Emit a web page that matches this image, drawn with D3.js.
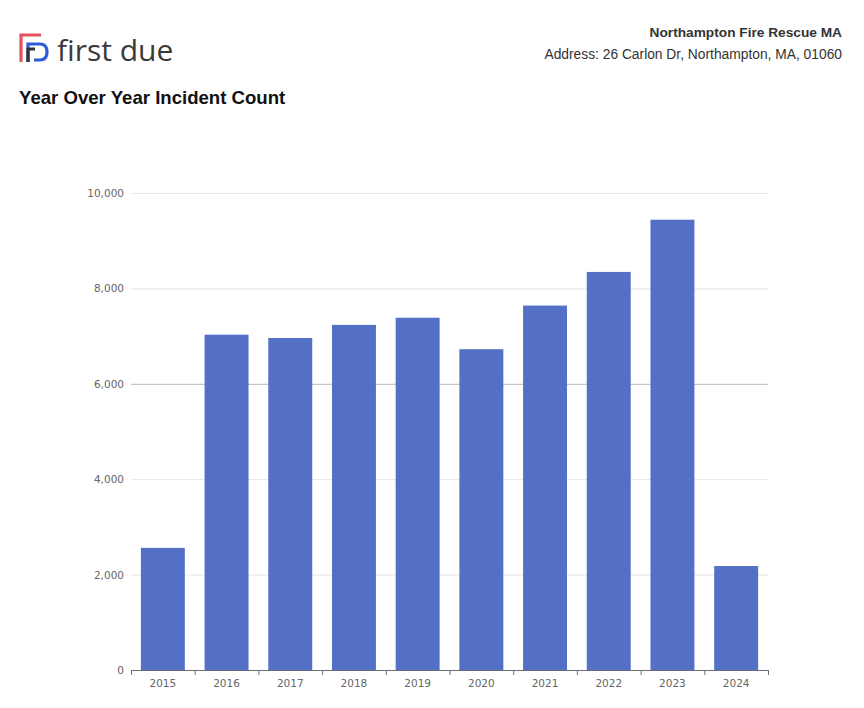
<!DOCTYPE html>
<html><head><meta charset="utf-8">
<script src="https://cdn.jsdelivr.net/npm/d3@7"></script>
<style>body{margin:0;background:#fff;}svg{display:block;}</style>
</head><body>
<svg id="c" width="864" height="708"></svg>
<script>
const years = ["2015","2016","2017","2018","2019","2020","2021","2022","2023","2024"];
const counts = [2560, 7030, 6960, 7235, 7385, 6725, 7640, 8345, 9440, 2180];
const yTicks = [0, 2000, 4000, 6000, 8000, 10000];

(function(){
const svg = d3.select("#c");
// header
const logo = svg.append("g").attr("transform","translate(19,33)");
logo.append("path").attr("d","M2,29 V2 H22").attr("fill","none").attr("stroke","#e2525c").attr("stroke-width",3.2);
logo.append("path").attr("d","M9,29 V11 H21 Q28,11 28,19 Q28,27 21,27 H15").attr("fill","none").attr("stroke","#2f5ad8").attr("stroke-width",3.2);
logo.append("path").attr("d","M9,29 V16 H16").attr("fill","none").attr("stroke","#333").attr("stroke-width",3.2);
svg.append("text").attr("x",57).attr("y",61).attr("font-family","'Open Sans', sans-serif").attr("font-size",30).attr("font-weight",400).attr("fill","#3a3a3a").attr("letter-spacing","0").text("first due");
svg.append("text").attr("x",842).attr("y",37).attr("text-anchor","end").attr("font-family","'Liberation Sans', Arial, sans-serif").attr("font-weight","bold").attr("font-size",13.7).attr("fill","#333").text("Northampton Fire Rescue MA");
svg.append("text").attr("x",842).attr("y",59).attr("text-anchor","end").attr("font-family","'Liberation Sans', Arial, sans-serif").attr("font-size",13.8).attr("fill","#333").text("Address: 26 Carlon Dr, Northampton, MA, 01060");
svg.append("text").attr("x",19).attr("y",104).attr("font-family","'Liberation Sans', Arial, sans-serif").attr("font-weight","bold").attr("font-size",18.6).attr("fill","#111").text("Year Over Year Incident Count");

const pl = 131, pr = 768, pt = 193, pb = 670;
const x = d3.scaleBand().domain(years).range([pl, pr]).paddingInner(0.31).paddingOuter(0.155);
const y = d3.scaleLinear().domain([0, 10000]).range([pb, pt]);

// grid
svg.append("g").selectAll("line").data(yTicks.filter(d=>d>0)).join("line")
  .attr("x1",pl).attr("x2",pr).attr("y1",d=>y(d)+0.5).attr("y2",d=>y(d)+0.5)
  .attr("stroke",d=>d===6000?"#b8b8b8":"#e6e6e6").attr("stroke-width",1);

// y labels
svg.append("g").selectAll("text").data(yTicks).join("text")
  .attr("x",124).attr("y",d=>y(d)+4).attr("text-anchor","end")
  .attr("font-family","'DejaVu Sans', sans-serif").attr("font-size",10.5).attr("fill","#666")
  .text(d=>d3.format(",")(d));

// bars
svg.append("g").selectAll("rect").data(years).join("rect")
  .attr("x",d=>x(d)).attr("width",x.bandwidth())
  .attr("y",(d,i)=>y(counts[i])).attr("height",(d,i)=>y(0)-y(counts[i]))
  .attr("fill","#5470c6");

// x axis
const xa = svg.append("g").attr("transform",`translate(0,${pb})`);
xa.append("line").attr("x1",pl).attr("x2",pr).attr("y1",0.5).attr("y2",0.5).attr("stroke","#6e7079");
const bounds = years.map((d,i)=>pl + i*(pr-pl)/years.length).concat([pr]);
xa.selectAll("line.t").data(bounds).join("line").attr("class","t")
  .attr("x1",d=>d+0.5).attr("x2",d=>d+0.5).attr("y1",0).attr("y2",5).attr("stroke","#6e7079");
xa.selectAll("text").data(years).join("text")
  .attr("x",d=>x(d)+x.bandwidth()/2).attr("y",17).attr("text-anchor","middle")
  .attr("font-family","'DejaVu Sans', sans-serif").attr("font-size",10.5).attr("fill","#666").text(d=>d);
})();
</script>
</body></html>
